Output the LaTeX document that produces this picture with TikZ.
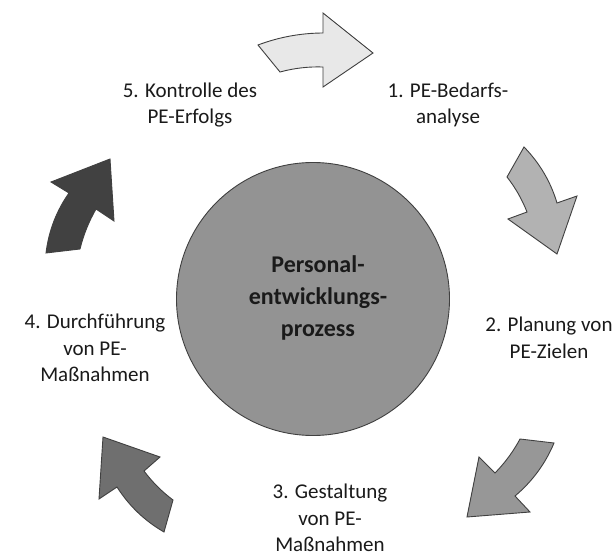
\documentclass[tikz,border=0pt]{standalone}
\usepackage{fontspec}
\setmainfont{Carlito}
\definecolor{shadeA}{HTML}{E8E8E8}
\definecolor{shadeB}{HTML}{B2B2B2}
\definecolor{shadeC}{HTML}{979797}
\definecolor{shadeD}{HTML}{6F6F6F}
\definecolor{shadeE}{HTML}{414141}
\definecolor{hubfill}{HTML}{939393}
\definecolor{outline}{HTML}{404040}
\definecolor{txt}{HTML}{1A1A1A}
\begin{document}
\begin{tikzpicture}[x=1pt,y=-1pt,
  blockarrow/.style={draw=outline, line width=0.9pt, line join=miter},
  steplabel/.style={align=center, inner sep=0pt, text=txt,
    font=\fontsize{21}{26.5}\selectfont}]
\useasboundingbox[fill=white] (0,0) rectangle (616,556);

% central hub
\node[circle, draw=outline, line width=0.9pt, fill=hubfill,
      minimum size=273pt, inner sep=0pt] (hub) at (313,299) {};
\node[align=center, inner sep=0pt, text=txt,
      font=\fontsize{24}{32}\selectfont\bfseries] (hubtext) at (318,297.5)
  {Personal-\\entwicklungs-\\prozess};

% curved block arrows of the cycle
\filldraw[blockarrow, fill=shadeA]
  (258,45) .. controls (279,37.1) and (300.6,33.1) .. (323,33)
  -- (323,13) -- (373,53) -- (323,87) -- (323,67)
  .. controls (308.7,66.5) and (294.3,68.1) .. (280,72) -- cycle;
\filldraw[blockarrow, fill=shadeB]
  (524,147) .. controls (539.6,163) and (550.6,181.6) .. (557,203)
  -- (577,196) -- (557,254) -- (508,219) -- (527,212)
  .. controls (522,199.3) and (515.4,187.7) .. (507,177) -- cycle;
\filldraw[blockarrow, fill=shadeC]
  (554,443) .. controls (545.3,463.8) and (532.3,481.4) .. (515,496)
  -- (530,512) -- (467,517) -- (479,457) -- (495,473)
  .. controls (504.9,462.9) and (513.3,451.5) .. (520,439) -- cycle;
\filldraw[blockarrow, fill=shadeD]
  (164,532) .. controls (144.6,520.8) and (129,505.8) .. (117,487)
  -- (99,499) -- (103,437) -- (160,457) -- (144,471)
  .. controls (152.3,482.1) and (161.9,491.7) .. (173,500) -- cycle;
\filldraw[blockarrow, fill=shadeE]
  (46,253) .. controls (48.7,231.1) and (56.3,211.1) .. (69,193)
  -- (51,182) -- (110,159) -- (114,221) -- (96,209)
  .. controls (88.8,221.6) and (83.4,235) .. (80,249) -- cycle;

% step labels
\node[steplabel] (s1) at (448,104.7) {1. PE-Bedarfs-\\analyse};
\node[steplabel] (s2) at (549,338) {2. Planung von\\PE-Zielen};
\node[steplabel] (s3) at (330,517.8) {3. Gestaltung\\von PE-\\Maßnahmen};
\node[steplabel] (s4) at (95,347.8) {4. Durchführung\\von PE-\\Maßnahmen};
\node[steplabel] (s5) at (190,104.8) {5. Kontrolle des\\PE-Erfolgs};
\end{tikzpicture}
\end{document}
